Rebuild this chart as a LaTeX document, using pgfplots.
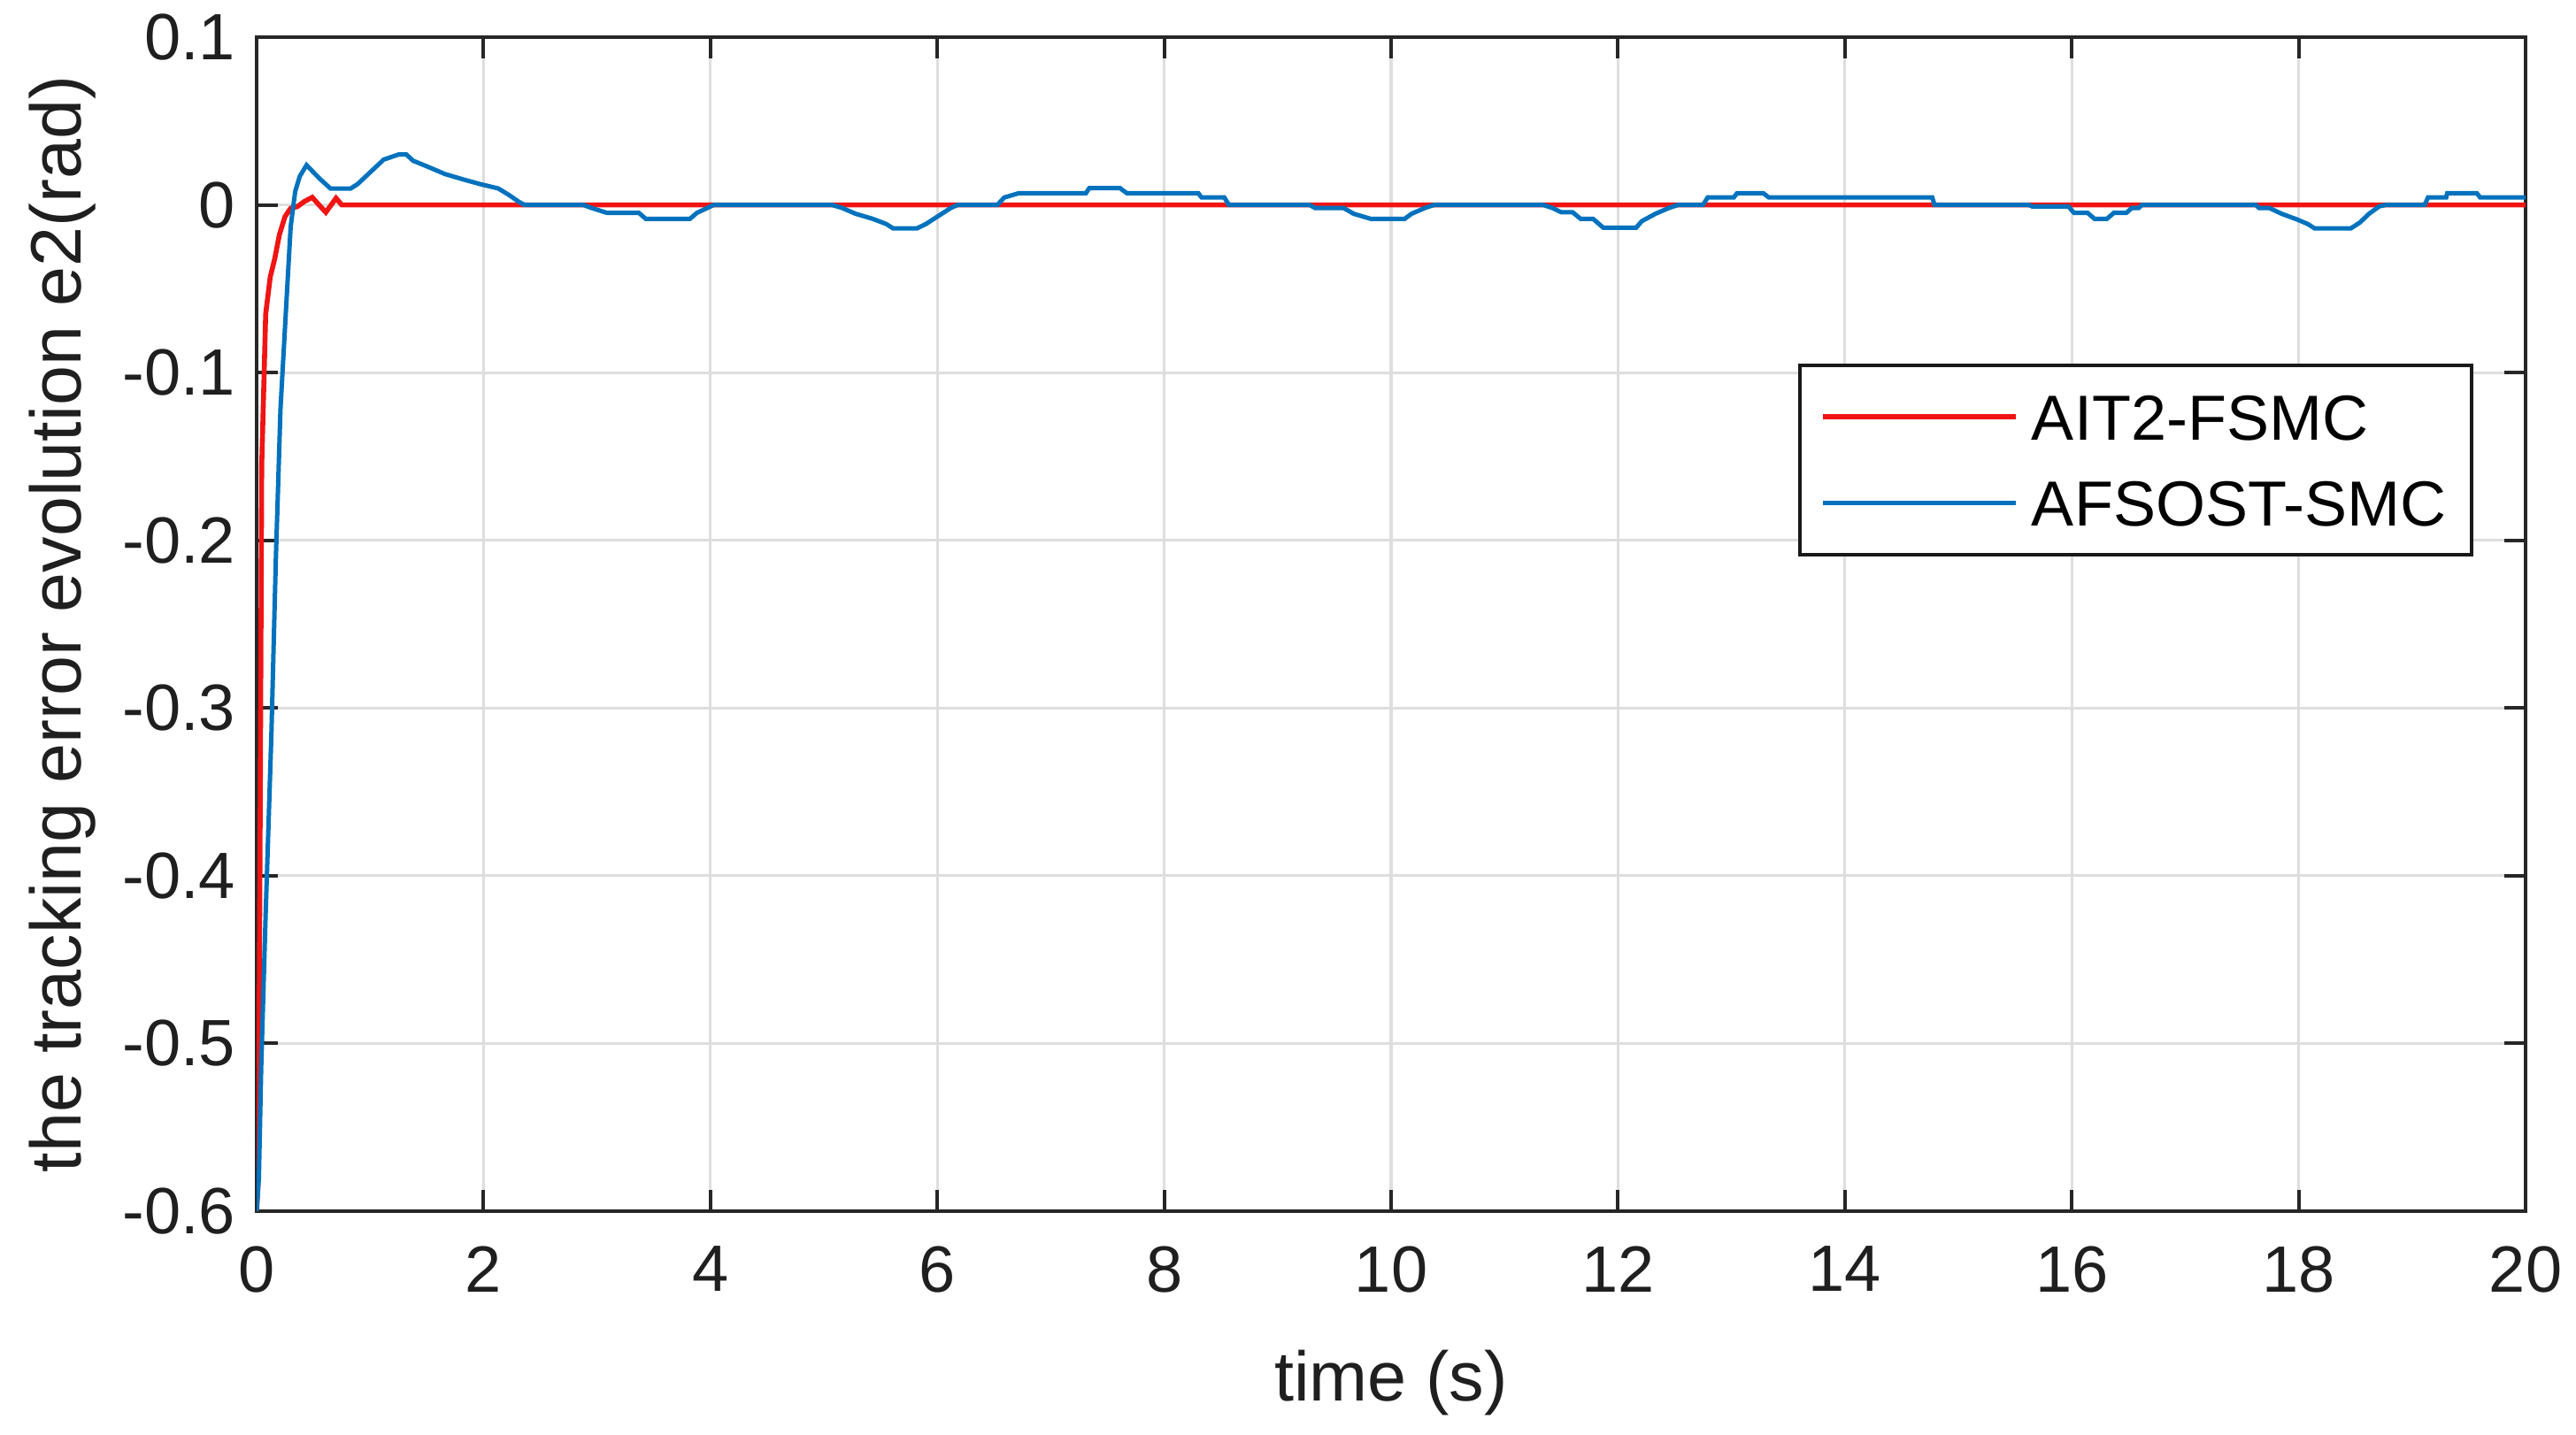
\documentclass[border=0pt]{standalone}
\usepackage{fontspec}
\setmainfont{Liberation Sans}
\usepackage{pgfplots}
\pgfplotsset{compat=1.18}
\definecolor{mblue}{RGB}{0,114,189}
\definecolor{mred}{RGB}{240,20,20}
\begin{document}
\begin{tikzpicture}
\begin{axis}[
  at={(0,0)}, anchor=south west,
  scale only axis, width=641bp, height=331.75bp,
  xmin=0, xmax=20, ymin=-0.6, ymax=0.1,
  xtick={0,2,...,20},
  ytick={-0.6,-0.5,-0.4,-0.3,-0.2,-0.1,0,0.1},
  yticklabels={-0.6,-0.5,-0.4,-0.3,-0.2,-0.1,0,0.1},
  xticklabels={0,2,4,6,8,10,12,14,16,18,20},
  xtick pos=both, ytick pos=both,
  xticklabel pos=lower, yticklabel pos=left,
  tick align=inside, major tick length=6bp,
  tick style={black!85, line width=1bp},
  axis line style={black!85, line width=1.1bp},
  grid=major, grid style={black!13, line width=0.8bp},
  tick label style={font=\fontsize{18.5bp}{21bp}\selectfont, text=black!88},
  xticklabel style={yshift=-6.5bp},
  yticklabel style={xshift=-2.5bp},
  xlabel={time (s)}, ylabel={the tracking error evolution e2(rad)},
  label style={text=black!88},
  xlabel style={font=\fontsize{19.8bp}{23bp}\selectfont, at={(axis description cs:0.5,-0.162)}, anchor=base},
  ylabel style={font=\fontsize{20.2bp}{23bp}\selectfont, at={(axis description cs:-0.0775,0.5)}, anchor=base, rotate=0},
  legend style={at={(axis description cs:0.97699,0.72193)}, anchor=north east,
    draw=black!90, line width=1bp, inner xsep=0pt, inner ysep=8.1bp,
    row sep=11.4bp, cells={anchor=west},
    nodes={inner sep=0pt, text height=12.9bp, text depth=0pt},
    font=\fontsize{18bp}{21bp}\selectfont, text=black},
  legend image code/.code={\path (0bp,0bp) (64bp,0bp); \draw[#1] (5.75bp,0bp) -- (60.25bp,0bp);},
]
\addplot[mred, line width=1.4bp] coordinates {
(0,-0.6) (0.015,-0.58) (0.03,-0.384) (0.045,-0.155) (0.08,-0.065) (0.12,-0.043)
(0.16,-0.032) (0.2,-0.018) (0.25,-0.007) (0.3,-0.002) (0.36,-0.001) (0.42,0.002)
(0.49,0.0045) (0.55,0.0) (0.61,-0.0044) (0.70,0.004) (0.75,0) (20,0)
};
\addlegendentry{AIT2-FSMC\rule{7.25bp}{0pt}}
\addplot[mblue, line width=1.25bp] coordinates {
(0,-0.6) (0.02,-0.58) (0.04,-0.515) (0.08,-0.422) (0.13,-0.316) (0.17,-0.21)
(0.21,-0.122) (0.265,-0.055) (0.30,-0.013) (0.34,0.008) (0.38,0.017) (0.44,0.0237)
(0.55,0.016) (0.65,0.0098) (0.83,0.0098) (0.89,0.0124) (1.12,0.027) (1.25,0.030)
(1.32,0.030) (1.38,0.0263) (1.5,0.023) (1.66,0.0184) (1.82,0.0152) (1.97,0.0124)
(2.13,0.0098) (2.22,0.0061) (2.31,0.0019) (2.36,0) (2.88,0) (2.95,-0.0018)
(3.09,-0.0048) (3.37,-0.0048) (3.43,-0.0083) (3.82,-0.0083) (3.88,-0.0048) (4.03,0)
(5.07,0) (5.16,-0.0018) (5.28,-0.0053) (5.43,-0.0083) (5.55,-0.0114) (5.61,-0.014)
(5.82,-0.014) (5.9,-0.0114) (6.0,-0.007) (6.12,-0.0018) (6.18,0) (6.53,0)
(6.59,0.0044) (6.72,0.007) (7.31,0.007) (7.34,0.010) (7.61,0.010) (7.67,0.007)
(8.30,0.007) (8.33,0.0044) (8.53,0.0044) (8.57,0) (9.28,0) (9.33,-0.0018)
(9.58,-0.0018) (9.67,-0.0053) (9.82,-0.0083) (10.12,-0.0083) (10.18,-0.0053)
(10.3,-0.0018) (10.38,0) (11.34,0) (11.42,-0.0018) (11.5,-0.0044) (11.6,-0.0044)
(11.67,-0.0083) (11.78,-0.0083) (11.87,-0.0136) (12.16,-0.0136) (12.21,-0.0097)
(12.33,-0.0053) (12.45,-0.0018) (12.53,0) (12.75,0) (12.79,0.0044) (13.02,0.0044)
(13.05,0.007) (13.28,0.007) (13.33,0.0044) (14.77,0.0044) (14.79,0) (15.62,0)
(15.65,-0.0009) (15.97,-0.0009) (16.02,-0.0048) (16.14,-0.0048) (16.2,-0.0083)
(16.31,-0.0083) (16.37,-0.0048) (16.48,-0.0048) (16.53,-0.0018) (16.59,-0.0018)
(16.62,0) (17.62,0) (17.65,-0.0018) (17.74,-0.0018) (17.85,-0.0053) (17.99,-0.0088)
(18.08,-0.0114) (18.14,-0.014) (18.46,-0.014) (18.54,-0.0105) (18.62,-0.0053)
(18.71,-0.0009) (18.77,0) (19.11,0) (19.14,0.0044) (19.30,0.0044) (19.31,0.007)
(19.57,0.007) (19.6,0.0044) (20,0.0044)
};
\addlegendentry{AFSOST-SMC\rule{7.25bp}{0pt}}
\end{axis}
\pgfresetboundingbox
\path[use as bounding box] (-72.5bp,-63.25bp) rectangle (655.25bp,342.25bp);
\end{tikzpicture}
\end{document}
